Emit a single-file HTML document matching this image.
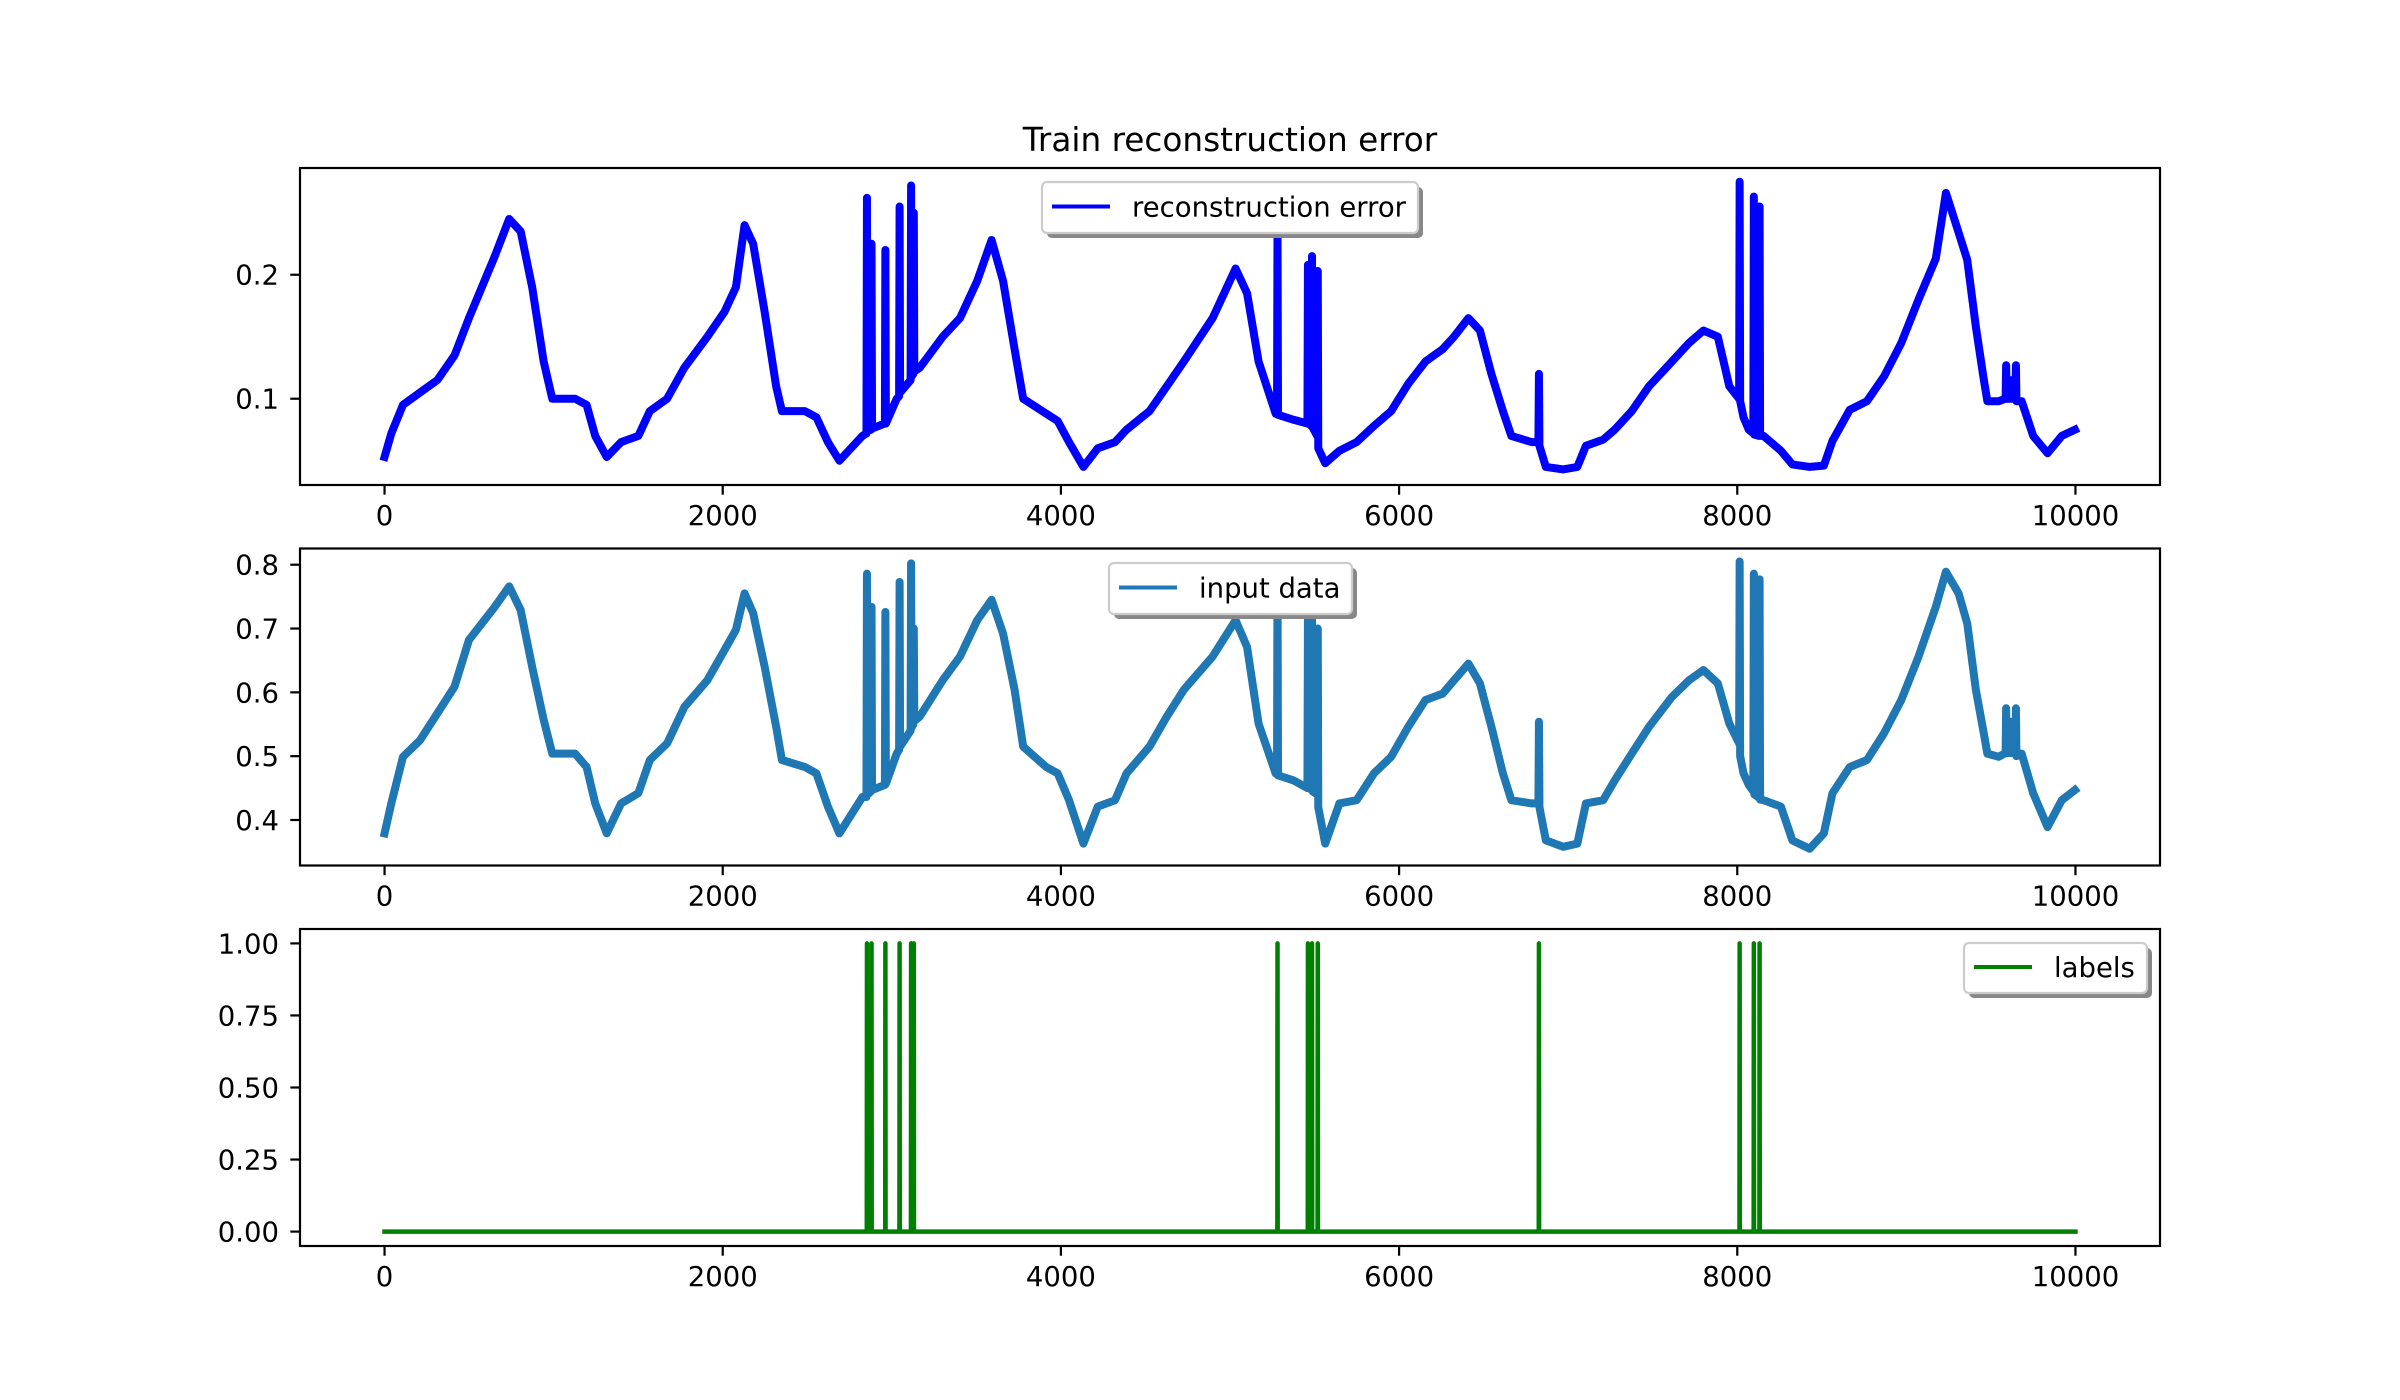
<!DOCTYPE html>
<html><head><meta charset="utf-8"><title>Train reconstruction error</title>
<style>html,body{margin:0;padding:0;background:#fff;}svg{display:block;font-family:"DejaVu Sans","Liberation Sans",sans-serif;}</style>
</head><body>
<svg id="fig" width="2400" height="1400" viewBox="0 0 2400 1400" xmlns="http://www.w3.org/2000/svg">
<rect x="0" y="0" width="2400" height="1400" fill="#fff"/>
<text x="1230" y="151" font-size="32.7" text-anchor="middle" fill="#000">Train reconstruction error</text>
</svg>
<script>
// ---- data ----
const sampleX = [0,40,109,210,312,414,499,652,737,805,873,941,992,1127,1195,1246,1314,1399,1501,1569,1671,1773,1909,2010,2078,2129,2180,2248,2316,2350,2486,2554,2622,2690,2826,2850,2853,2856,2877,2880,2883,2959,2962,2965,3029,3043,3046,3049,3111,3114,3117,3127,3130,3133,3165,3301,3403,3505,3590,3658,3726,3777,3913,3981,4048,4133,4218,4320,4388,4524,4626,4727,4897,5033,5101,5169,5270,5278,5281,5284,5376,5458,5461,5464,5482,5485,5488,5516,5519,5522,5563,5647,5749,5851,5953,6054,6156,6258,6325,6410,6478,6546,6614,6664,6783,6824,6827,6830,6868,6970,7054,7105,7207,7275,7376,7478,7614,7715,7800,7885,7953,8011,8014,8017,8037,8068,8095,8098,8101,8129,8132,8135,8156,8258,8326,8428,8512,8563,8665,8767,8868,8970,9072,9174,9234,9309,9360,9411,9455,9479,9546,9587,9590,9593,9617,9620,9623,9645,9648,9651,9682,9750,9835,9919,9997];
const reconError = [.053,.072,.095,.105,.115,.135,.165,.215,.245,.235,.190,.130,.100,.100,.095,.070,.053,.065,.070,.090,.100,.125,.150,.170,.190,.240,.225,.170,.110,.090,.090,.085,.065,.050,.070,.072,.262,.074,.075,.225,.076,.080,.220,.080,.100,.102,.255,.105,.115,.272,.118,.120,.250,.122,.125,.150,.165,.195,.228,.195,.140,.100,.088,.082,.065,.045,.060,.065,.075,.090,.110,.130,.165,.205,.185,.130,.088,.088,.235,.087,.083,.080,.208,.080,.078,.215,.077,.070,.203,.060,.048,.058,.065,.078,.090,.112,.130,.140,.150,.165,.155,.120,.090,.070,.065,.065,.120,.062,.045,.043,.045,.062,.067,.075,.090,.110,.130,.145,.155,.150,.110,.100,.275,.098,.085,.075,.072,.263,.071,.070,.255,.070,.070,.058,.047,.045,.046,.066,.091,.098,.118,.145,.180,.213,.266,.234,.212,.158,.118,.098,.098,.100,.127,.100,.100,.115,.100,.100,.127,.098,.098,.070,.056,.070,.075];
const inputData = [.379,.426,.499,.525,.567,.609,.682,.734,.766,.729,.640,.557,.504,.504,.483,.426,.379,.426,.442,.494,.520,.577,.619,.666,.698,.755,.724,.640,.546,.494,.483,.473,.421,.379,.436,.436,.786,.440,.445,.734,.447,.455,.726,.457,.504,.510,.773,.515,.540,.802,.545,.550,.700,.555,.562,.619,.656,.713,.745,.692,.604,.515,.483,.473,.431,.363,.421,.431,.473,.515,.562,.604,.656,.713,.671,.551,.473,.473,.780,.470,.462,.450,.720,.450,.448,.730,.445,.440,.700,.420,.363,.426,.431,.473,.499,.546,.588,.598,.619,.645,.614,.546,.473,.431,.426,.426,.554,.420,.368,.358,.363,.426,.431,.462,.504,.546,.593,.619,.635,.614,.551,.520,.805,.500,.473,.455,.445,.786,.440,.435,.777,.432,.431,.421,.368,.355,.379,.442,.483,.494,.536,.588,.656,.734,.789,.755,.708,.604,.540,.504,.499,.505,.575,.505,.505,.554,.505,.505,.575,.500,.504,.442,.389,.431,.447];
const anomalyIdx = [2853,2880,2962,3046,3114,3130,5281,5461,5485,5519,6827,8014,8098,8132];
const xTicks = [0,2000,4000,6000,8000,10000];
const xTickLabels = ["0","2000","4000","6000","8000","10000"];
const y1Ticks = [0.1,0.2];
const y1TickLabels = ["0.1","0.2"];
const y2Ticks = [0.4,0.5,0.6,0.7,0.8];
const y2TickLabels = ["0.4","0.5","0.6","0.7","0.8"];
const y3Ticks = [0,0.25,0.5,0.75,1];
const y3TickLabels = ["0.00","0.25","0.50","0.75","1.00"];

const NS = "http://www.w3.org/2000/svg";
const svg = document.getElementById('fig');
const L = 300, R = 2160, XMIN = -500, XMAX = 10500;
function sx(v){ return L + (v - XMIN) / (XMAX - XMIN) * (R - L); }
function mk(tag, attrs, parent){ const e = document.createElementNS(NS, tag); for (const k in attrs) e.setAttribute(k, attrs[k]); (parent||svg).appendChild(e); return e; }

function axes(name, top, bottom, ymin, ymax, yt, ytl){
  const g = mk('g', {});
  
  
  const sy = v => bottom - (v - ymin) / (ymax - ymin) * (bottom - top);
  xTicks.forEach((t, i) => {
    const tk = mk('line', {x1: sx(t), x2: sx(t), y1: bottom, y2: bottom + 9.7, stroke: '#000', 'stroke-width': 2.2}, g);
    
    
    const tl = mk('text', {x: sx(t), y: bottom + 40, 'font-size': 27.5, 'text-anchor': 'middle', fill: '#000'}, g);
    tl.textContent = xTickLabels[i];
    
    
  });
  yt.forEach((t, i) => {
    const tk = mk('line', {x1: L - 9.7, x2: L, y1: sy(t), y2: sy(t), stroke: '#000', 'stroke-width': 2.2}, g);
    
    
    const tl = mk('text', {x: L - 21, y: sy(t) + 10, 'font-size': 27.5, 'text-anchor': 'end', fill: '#000'}, g);
    tl.textContent = ytl[i];
    
    
  });
  return {g, sy, top, bottom};
}
function frame(ax){
  const f = mk('rect', {x: L, y: ax.top, width: R - L, height: ax.bottom - ax.top, fill: 'none', stroke: '#000', 'stroke-width': 2.2}, ax.g);
  
  
}
function series(ax, xs, ys, color, w, name){
  const clip = 'clip-' + name;
  const cp = mk('clipPath', {id: clip}, ax.g);
  mk('rect', {x: L, y: ax.top, width: R - L, height: ax.bottom - ax.top}, cp);
  const pts = xs.map((x, i) => sx(x).toFixed(2) + ',' + ax.sy(ys[i]).toFixed(2)).join(' ');
  const pl = mk('polyline', {points: pts, fill: 'none', stroke: color, 'stroke-width': w, 'stroke-linejoin': 'round', 'stroke-linecap': 'square', 'clip-path': 'url(#' + clip + ')'}, ax.g);
  
  
}
function legend(ax, x, y, w, h, color, label, name){
  const g = mk('g', {}, ax.g);
  
  
  mk('rect', {x: x + 5, y: y + 5, width: w, height: h, rx: 5, fill: '#888'}, g);
  mk('rect', {x: x, y: y, width: w, height: h, rx: 5, fill: '#fff', stroke: '#ccc', 'stroke-width': 2.2}, g);
  mk('line', {x1: x + 10, x2: x + 68, y1: y + h / 2 - 1, y2: y + h / 2 - 1, stroke: color, 'stroke-width': 4.1}, g);
  const t = mk('text', {x: x + 90, y: y + h / 2 + 9, 'font-size': 27.5, fill: '#000'}, g);
  t.textContent = label;
  
  
}

const ax1 = axes('recon-error-axes', 168, 485, 0.0304, 0.2861, y1Ticks, y1TickLabels);
series(ax1, sampleX, reconError, '#0000ff', 8, 'recon-error-line');
frame(ax1);
legend(ax1, 1042, 182, 376, 51, '#0000ff', 'reconstruction error', 'legend-recon-error');

const ax2 = axes('input-data-axes', 548.5, 865.5, 0.3287, 0.8254, y2Ticks, y2TickLabels);
series(ax2, sampleX, inputData, '#1f77b4', 8, 'input-data-line');
frame(ax2);
legend(ax2, 1109, 563, 243, 51, '#1f77b4', 'input data', 'legend-input-data');

const ax3 = axes('labels-axes', 929, 1246, -0.05, 1.05, y3Ticks, y3TickLabels);
const lx = [0], ly = [0];
anomalyIdx.forEach(a => { lx.push(a - 1, a, a + 1); ly.push(0, 1, 0); });
lx.push(10000); ly.push(0);
series(ax3, lx, ly, '#008000', 4.5, 'labels-line');
frame(ax3);
legend(ax3, 1964, 943, 183, 50, '#008000', 'labels', 'legend-labels');
</script>
</body></html>
